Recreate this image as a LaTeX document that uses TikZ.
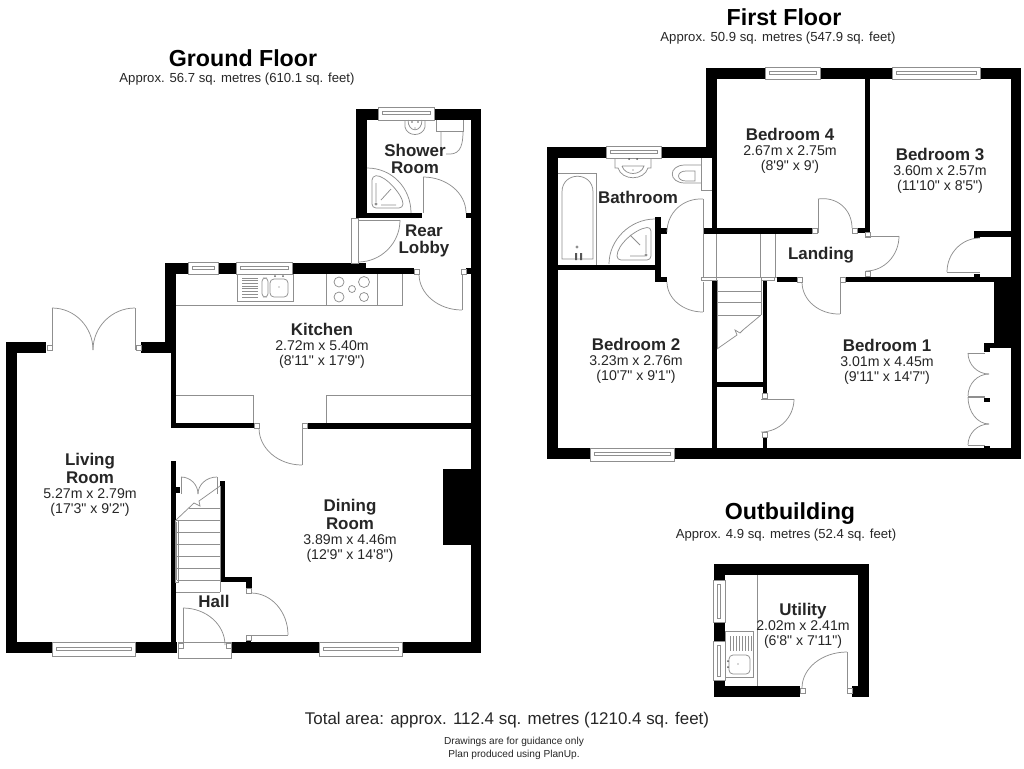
\documentclass[tikz,border=0pt]{standalone}
\usepackage{fontspec}
\newfontfamily\lib{Liberation Sans}
\definecolor{ln}{HTML}{8F8F8F}
\tikzset{
  thinl/.style={draw=ln,line width=0.55pt},
  roomtxt/.style={align=center,inner sep=0pt,font=\lib\fontsize{10.6}{11.4}\selectfont,text=black!85},
  titletxt/.style={inner sep=0pt,font=\lib\bfseries\fontsize{17.4}{19}\selectfont},
  subtxt/.style={inner sep=0pt,font=\lib\fontsize{9.85}{11}\selectfont,text=black!85}
}
\newcommand\rn[1]{{\bfseries\fontsize{12.7}{11.4}\selectfont #1}}
\newcommand\wl[4]{\fill[black] (#1,#2) rectangle (#3,#4);}
\newcommand\sq[2]{\filldraw[fill=white,thinl] (#1,#2) rectangle ++(5,5);}
\newcommand\qarc[6]{\draw[thinl] (#3,#4) .. controls ({#3+.5523*(#5-#1)},{#4+.5523*(#6-#2)}) and ({#5+.5523*(#3-#1)},{#6+.5523*(#4-#2)}) .. (#5,#6);}
\newcommand\door[6]{\draw[thinl] (#1,#2) -- (#3,#4); \qarc{#1}{#2}{#3}{#4}{#5}{#6}}
\newcommand\winh[4]{\filldraw[fill=white,thinl] (#1,#3) rectangle (#2,#4);
  \draw[thinl] ({#1+4},{#3+(#4-#3)*.35}) rectangle ({#2-4},{#3+(#4-#3)*.6});}
\newcommand\winv[4]{\filldraw[fill=white,thinl] (#1,#3) rectangle (#2,#4);
  \draw[thinl] ({#1+(#2-#1)*.35},{#3+4}) rectangle ({#1+(#2-#1)*.6},{#4-4});}
\begin{document}
\begin{tikzpicture}[x=0.75pt,y=-0.75pt]
\useasboundingbox (0,0) rectangle (1024,768);
\fill[white] (0,0) rectangle (1024,768);

%% ===== GROUND FLOOR walls
\wl{6}{342}{17}{653}\wl{6}{342}{46}{353}\wl{141}{342}{176}{353}
\wl{165}{263}{176}{353}\wl{171}{353}{176}{428}\wl{171}{423}{254}{428}
\wl{6}{642}{177}{653}\wl{171}{461}{176}{642}\wl{176}{487}{180}{493}
\wl{231}{642}{481}{653}\wl{471}{109}{481}{653}
\wl{220}{481}{225}{582}\wl{220}{577}{252}{582}\wl{246}{582}{252}{589}\wl{246}{639}{251}{642}
\wl{306}{423}{471}{429}\wl{443}{469}{471}{545}
\wl{165}{263}{366}{274}\wl{366}{268}{414}{274}
\wl{356}{109}{367}{218}\wl{356}{109}{481}{120}\wl{356}{213}{422}{218}
\wl{466}{213}{471}{218}\wl{466}{268}{471}{274}

%% windows
\winh{52}{135}{642}{656}
\winh{319}{402}{642}{656}
\winh{188}{218}{262}{274}
\winh{236}{292}{262}{274}
\winh{378}{434}{107}{120}

%% entrance
\filldraw[fill=white,thinl] (178,642) rectangle (231,658);
\sq{178}{643}\sq{226}{643}
\door{183}{645}{183}{608}{225}{645}
%% hall door to dining
\sq{246}{588}\sq{246}{635}
\door{251}{635}{288}{635}{251}{593}
%% kitchen door
\sq{254}{423}\sq{302}{423}
\door{302}{428}{302}{465}{259}{428}
\draw[thinl] (176,395) -- (253,395) -- (253,423);
\draw[thinl] (326,423) -- (326,395) -- (471,395);
%% French doors
\sq{47}{345}\sq{136}{345}
\door{52}{350}{52}{308}{93}{350}
\door{135}{350}{135}{308}{93}{350}
%% ground stairs
\draw[thinl] (176,522) -- (176,580) (220,486) -- (220,592) (176,592) -- (220,592);
\foreach \yy in {508,520,532,544,556,568,580}{\draw[thinl] (177,\yy) -- (220,\yy);}
\filldraw[fill=white,draw=white] (177,508) rectangle (188,519);
\draw[thinl] (176,520) -- (194,503) -- (200,506) -- (199,501) -- (220,486);
\draw[thinl] (175,520) rectangle (178,582);
\door{181}{494}{181}{477}{198}{494}
\door{217}{494}{217}{477}{198}{494}
%% back door
\filldraw[fill=white,thinl] (351,218) rectangle (358,263);
\door{358}{220}{400}{220}{358}{262}
%% lobby doors
\sq{414}{269}\sq{461}{269}
\door{462}{274}{462}{310}{419}{274}
\door{423}{213}{423}{177}{466}{213}
%% kitchen fittings
\draw[thinl] (176,305) -- (402,305) -- (402,274);
\filldraw[fill=white,thinl] (237,274) rectangle (293,301);
\foreach \yy in {278,280.7,283.4,286.1,288.8,291.5,294.2,297}{\draw[thinl] (242,\yy) -- (258,\yy);}
\draw[thinl,rounded corners=2.5pt] (262,278) rectangle (268,297);
\draw[thinl,rounded corners=3pt] (270,279) rectangle (288,297);
\fill[ln!70!black] (275,276) circle (1) (283,276) circle (1) (279,287) circle (.7);
\draw[thinl] (326,274) -- (326,305) (377,274) -- (377,305);
\draw[thinl] (339,282) circle (5) (364,282) circle (5.5) (352,289) circle (3.5) (339,297) circle (5) (364,297) circle (4.5);
%% shower room fittings
\draw[thinl] (405,120) -- (405,127) .. controls (407,137) and (423,137) .. (425,127) -- (425,120);
\draw[thinl] (408,120) .. controls (408,133) and (422,133) .. (422,120);
\fill[ln!70!black] (412,122) circle (.9) (418,122) circle (.9) (415,128) circle (.6);
\draw[thinl] (436,120) -- (436,131) -- (463,131) -- (463,120);
\draw[thinl] (441,131) -- (441,150) (463,131) .. controls (463,150) and (458,155) .. (446,154);
\draw[thinl] (367,168) .. controls (392,168) and (411,188) .. (411,213);
\draw[thinl,rounded corners=3pt] (372,176) .. controls (385,175) and (403,195) .. (403,208) -- (372,208) -- cycle;
\draw[thinl] (376,183) -- (376,202) (381,200) -- (391,189) (381,205) -- (396,205);
\draw[thinl] (376,204) circle (1);

%% ===== FIRST FLOOR walls
\wl{547}{147}{558}{459}\wl{547}{147}{717}{158}\wl{706}{68}{717}{158}
\wl{706}{68}{1021}{79}\wl{1011}{68}{1021}{459}\wl{547}{448}{1021}{459}
\wl{712}{158}{717}{233}\wl{865}{68}{870}{233}\wl{703}{228}{812}{234}\wl{857}{228}{870}{233}
\wl{845}{277}{1011}{282}\wl{974}{231}{1011}{237}\wl{974}{237}{980}{238}\wl{974}{274}{980}{277}
\wl{994}{282}{1011}{348}\wl{984}{343}{1011}{348}\wl{984}{348}{990}{352}\wl{984}{398}{990}{402}\wl{984}{446}{990}{448}
\wl{777}{277}{797}{282}\wl{712}{280}{717}{450}\wl{763}{280}{767}{393}\wl{712}{382}{767}{387}\wl{763}{437}{767}{450}
\wl{558}{265}{661}{270}\wl{655}{217}{661}{282}\wl{661}{228}{667}{234}\wl{655}{277}{667}{282}
%% windows
\winh{606}{661}{146}{158}
\winh{765}{820}{67}{79}
\winh{892}{980}{67}{79}
\winh{590}{674}{448}{461}
%% doors
\sq{812}{228}\sq{852}{228}
\door{818}{233}{818}{199}{852}{228}
\sq{865}{232}\sq{865}{271}
\door{866}{236}{899}{236}{866}{271}
\door{980}{272}{947}{272}{980}{238}
\draw[thinl] (980,272) -- (974,272);
\sq{797}{277}\sq{840}{277}
\door{840}{281}{840}{314}{802}{282}
\sq{762}{393}\sq{762}{432}
\door{761}{399}{794}{399}{761}{432}
%% landing
\draw[thinl] (703,234) -- (703,277) (716,234) -- (716,277) (760,234) -- (760,277) (775,234) -- (775,277);
\draw[thinl] (703,277) -- (777,277);
\fill[white] (700,277) rectangle (712,280);
\draw[thinl] (701,277) rectangle (716,280);
\draw[thinl] (761,277) rectangle (774,280);
%% first stairs
\draw[thinl] (717,280) -- (717,349) (761,280) -- (761,315);
\foreach \yy in {291,302}{\draw[thinl] (717,\yy) -- (761,\yy);}
\draw[thinl] (717,315) -- (761,315);
\draw[thinl] (761,315) -- (743,330) -- (740,333) -- (735,330) -- (737,335) -- (717,349);
%% bathroom doors
\door{703}{234}{703}{199}{667}{232}
\door{703}{282}{703}{312}{667}{282}
%% bathroom fittings
\draw[thinl] (558,173) -- (596,173) -- (596,265);
\draw[thinl] (562,259) -- (562,192) .. controls (562,171) and (593,171) .. (593,192) -- (593,259) -- cycle;
\fill[ln!60!black] (575,253) rectangle (577,260) (580,253) rectangle (582,260);
\draw[thinl] (577,247) circle (1);
\draw[thinl] (609,264) .. controls (609,240) and (630,219) .. (655,219);
\draw[thinl,rounded corners=3pt] (651,227) .. controls (635,229) and (617,245) .. (617,260) -- (651,260) -- cycle;
\draw[thinl] (646,235) -- (646,253) (640,245) -- (630,235) (645,256) -- (630,256);
\draw[thinl] (646,255) circle (1);
\draw[thinl] (615,158) -- (615,168) -- (618,168) .. controls (622,181) and (644,181) .. (648,168) -- (651,168) -- (651,158);
\draw[thinl] (622,166) .. controls (625,176) and (641,176) .. (644,166) -- (622,166);
\fill[ln!60!black] (629,159) circle (1) (637,159) circle (1) (633,170) circle (.6);
\draw[thinl] (701,158) -- (701,190) -- (712,190);
\draw[thinl] (701,165) -- (685,165) .. controls (668,165) and (668,183) .. (685,183) -- (701,183);
\draw[thinl] (695,171) -- (686,171) .. controls (676,171) and (676,181) .. (686,181) -- (695,181) -- cycle;
%% wardrobes
\draw[thinl] (968,353) -- (985,353) (968,396) -- (985,396) (968,397) -- (985,397) (968,445) -- (985,445);
\qarc{989}{353}{968}{353}{989}{374}
\qarc{989}{396}{968}{396}{989}{374}
\qarc{989}{397}{968}{397}{989}{424}
\qarc{989}{445}{968}{445}{989}{424}

%% ===== OUTBUILDING
\wl{714}{564}{869}{575}\wl{714}{564}{725}{697}\wl{858}{564}{869}{697}
\wl{714}{686}{800}{697}\wl{852}{686}{869}{697}
\winv{713}{725}{580}{622}
\winv{713}{725}{641}{680}
\sq{800}{688}\sq{847}{688}
\door{847}{688}{847}{652}{802}{688}
\draw[thinl] (757,575) -- (757,686);
\draw[thinl] (725,631) rectangle (753,677);
\foreach \xx in {730,733,736,739,742,745,748,751}{\draw[thinl] (\xx,636) -- (\xx,651);}
\draw[thinl,rounded corners=3pt] (729,655) rectangle (750,674);
\fill[ln!60!black] (728,661) circle (1) (728,667) circle (1) (738,664) circle (.6);

%% ===== TEXT
\node[titletxt] (gft) at (243,58) {Ground Floor};
\node[subtxt] (gfs) at (237,79) {Approx. 56.7 sq. metres (610.1 sq. feet)};
\node[titletxt] (fft) at (784,17) {First Floor};
\node[subtxt] (ffs) at (778,38) {Approx. 50.9 sq. metres (547.9 sq. feet)};
\node[titletxt] (obt) at (790,514) {Outbuilding};
\node[subtxt] (obs) at (786,535) {Approx. 4.9 sq. metres (52.4 sq. feet)};
\node[inner sep=0pt,font=\lib\fontsize{12.7}{14}\selectfont,text=black!85] (tot) at (507,720) {Total area: approx. 112.4 sq. metres (1210.4 sq. feet)};
\node[inner sep=0pt,align=center,font=\lib\fontsize{7.6}{9.6}\selectfont,text=black!85] (disc) at (514,748) {Drawings are for guidance only\\Plan produced using PlanUp.};

\node[roomtxt] (living) at (90,485) {\rn{Living}\\[0.8pt]\rn{Room}\\5.27m x 2.79m\\(17'3" x 9'2")};
\node[roomtxt] (dining) at (350,531) {\rn{Dining}\\[0.8pt]\rn{Room}\\3.89m x 4.46m\\(12'9" x 14'8")};
\node[roomtxt] (kitchen) at (322,346) {\rn{Kitchen}\\2.72m x 5.40m\\(8'11" x 17'9")};
\node[roomtxt] (shower) at (415,159) {\rn{Shower}\\[0.8pt]\rn{Room}};
\node[roomtxt] (lobby) at (424,241) {\rn{Rear}\\[1.5pt]\rn{Lobby}};
\node[roomtxt] (hall) at (214,601) {\rn{Hall}};
\node[roomtxt] (bed4) at (790,151) {\rn{Bedroom 4}\\2.67m x 2.75m\\(8'9" x 9')};
\node[roomtxt] (bed3) at (940,171) {\rn{Bedroom 3}\\3.60m x 2.57m\\(11'10" x 8'5")};
\node[roomtxt] (bath) at (638,197) {\rn{Bathroom}};
\node[roomtxt] (landing) at (821,255) {\rn{Landing}};
\node[roomtxt] (bed2) at (636,361) {\rn{Bedroom 2}\\3.23m x 2.76m\\(10'7" x 9'1")};
\node[roomtxt] (bed1) at (887,362) {\rn{Bedroom 1}\\3.01m x 4.45m\\(9'11" x 14'7")};
\node[roomtxt] (util) at (803,626) {\rn{Utility}\\2.02m x 2.41m\\(6'8" x 7'11")};
\end{tikzpicture}
\end{document}
